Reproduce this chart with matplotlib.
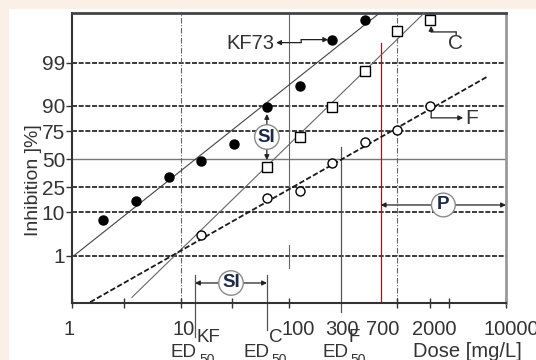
from statistics import NormalDist

import matplotlib

matplotlib.use("Agg")
import matplotlib.pyplot as plt
from matplotlib.patches import Rectangle
from matplotlib.transforms import blended_transform_factory, offset_copy

# doses follow a doubling dilution series; inhibition
kf_dose = [1.95, 3.9, 7.8, 15.6, 31.25, 62.5, 125, 250, 500]
kf_inhib = [7.0, 15.6, 33.0, 48.0, 64.0, 89.5, 96.0, 99.8, 99.96]

c_dose = [62.5, 125, 250, 500, 1000, 2000]
c_inhib = [42.4, 70.0, 89.5, 98.3, 99.9, 99.96]

f_dose = [15.6, 62.5, 125, 250, 500, 1000, 2000]
f_inhib = [3.4, 17.4, 22.0, 46.0, 66.0, 76.0, 90.0]

# probit fit lines, given by their end points
kf_fit_dose = [1.0, 680]
kf_fit_inhib = [0.9, 99.978]
c_fit_dose = [3.57, 1755]
c_fit_inhib = [0.043, 99.978]
f_fit_dose = [1.47, 6830]
f_fit_inhib = [0.028, 97.7]

ed50_names = ["KF", "C", "F"]
ed50_dose = [13.6, 62.7, 300]
p_limit = 700
p_end = 10000

y_ticks = [1, 10, 25, 50, 75, 90, 99]
x_tick_marks = [1, 3, 10, 30, 100, 1000, 2000, 3000, 10000]
x_label_vals = [1, 10, 100, 300, 700, 2000, 10000]

PEACH = "#fcefe6"
TXT = "#333333"
NAVY = "#1d2946"

plt.rcParams["font.family"] = ["Liberation Sans", "DejaVu Sans"]

nd = NormalDist()


def z(p):
    return nd.inv_cdf(p / 100.0)


fig = plt.figure(figsize=(5.36, 3.6), dpi=100)
fig.patch.set_facecolor("white")
fig.add_artist(Rectangle((0, 0), 9 / 536, 1, transform=fig.transFigure,
                         facecolor=PEACH, edgecolor="none", zorder=0))
fig.add_artist(Rectangle((0, 1 - 9 / 360), 1, 9 / 360, transform=fig.transFigure,
                         facecolor=PEACH, edgecolor="none", zorder=0))

ax = fig.add_axes([72 / 536, 57 / 360, 434 / 536, 290 / 360])
ax.set_xscale("log")
ax.set_xlim(1, 10000)
ax.set_ylim(-3.47, 3.52)

xa = blended_transform_factory(ax.transData, ax.transAxes)


def shifted(tr, dx, dy):
    return offset_copy(tr, fig=fig, x=dx, y=dy, units="dots")


# horizontal reference lines
for p in y_ticks:
    if p == 50:
        ax.axhline(z(p), color="#777777", lw=1.0, zorder=1)
    else:
        ax.axhline(z(p), color="#1a1a1a", lw=1.2, dashes=(3, 1), zorder=1)

# vertical reference lines
for v in [10, 1000]:
    ax.axvline(v, color="#666666", lw=0.8, dashes=(5, 1.5, 1, 1.5), zorder=1)
ax.plot([100, 100], [0.321, 1.0], transform=xa, color="#666666", lw=0.8, zorder=1)
ax.plot([100, 100], [0.121, 0.2], transform=xa, color="#666666", lw=0.8, zorder=1)
ax.plot([p_limit, p_limit], [0, 0.897], transform=xa, color="#9b1b1b", lw=0.9, zorder=2)

# ED50 markers
ed_top = [0.0966, 0.0966, 0.538]
ed_bot = [-0.117, -0.093, -0.031]
for d, t, b in zip(ed50_dose, ed_top, ed_bot):
    ax.plot([d, d], [b, t], transform=xa, color="#555555", lw=0.9, clip_on=False, zorder=2)

ed_dx = [2, 2, 8]
for name, d, dx in zip(ed50_names, ed50_dose, ed_dx):
    ax.text(d, -0.169, "ED", transform=shifted(xa, dx, 0), ha="right", va="center",
            fontsize=13.5, color=TXT, clip_on=False)
    ax.text(d, -0.118, name, transform=shifted(xa, dx, 0), ha="left", va="center",
            fontsize=13.5, color=TXT, clip_on=False)
    ax.text(d, -0.195, "50", transform=shifted(xa, dx + 2, 0), ha="left", va="center",
            fontsize=10, color=TXT, clip_on=False)

# fit lines
ax.plot(kf_fit_dose, [z(p) for p in kf_fit_inhib], color="#444444", lw=0.8, zorder=3)
ax.plot(c_fit_dose, [z(p) for p in c_fit_inhib], color="#666666", lw=0.8, zorder=3)
ax.plot(f_fit_dose, [z(p) for p in f_fit_inhib], color="#1a1a1a", lw=1.3,
        dashes=(3, 1.3), zorder=3)

# data points
ax.plot(kf_dose, [z(p) for p in kf_inhib], "o", ms=6.5, color="black", zorder=5)
ax.plot(c_dose, [z(p) for p in c_inhib], "s", ms=6.5, mfc="white", mec="black",
        mew=1.0, zorder=5)
ax.plot(f_dose, [z(p) for p in f_inhib], "o", ms=6.5, mfc="white", mec="black",
        mew=1.0, zorder=5)

bubble = dict(boxstyle="circle,pad=0.18", fc="white", ec="#8a8a8a", lw=1.0)
arrow2 = dict(arrowstyle="<|-|>", color="#222222", lw=0.9, mutation_scale=7,
              shrinkA=0, shrinkB=0)

# SI between KF and C at the same dose
si_x = kf_dose[5]
ax.annotate("", xy=(si_x, z(kf_inhib[5])), xytext=(si_x, z(c_inhib[0])),
            arrowprops=dict(arrow2, shrinkA=5, shrinkB=5), zorder=6)
ax.text(si_x, (z(kf_inhib[5]) + z(c_inhib[0])) / 2, "SI", ha="center", va="center",
        fontsize=13.5, fontweight="bold", color=NAVY, bbox=bubble, zorder=7)

# SI between the ED50 values
si_y = 0.069
ax.annotate("", xy=(ed50_dose[0], si_y), xytext=(ed50_dose[1], si_y),
            xycoords=xa, textcoords=xa, arrowprops=arrow2, zorder=6)
ax.text((ed50_dose[0] * ed50_dose[1]) ** 0.5, si_y, "SI", transform=xa, ha="center",
        va="center", fontsize=13.5, fontweight="bold", color=NAVY, bbox=bubble, zorder=7)

# P range
p_y = 0.338
ax.annotate("", xy=(p_limit, p_y), xytext=(p_end, p_y), xycoords=xa, textcoords=xa,
            arrowprops=arrow2, zorder=6, annotation_clip=False)
ax.text((p_limit * p_end) ** 0.5, p_y, "P", transform=xa, ha="center", va="center",
        fontsize=13.5, fontweight="bold", color=NAVY, bbox=bubble, zorder=7)


def leader(x, y, pts, head_start=False, head_end=False):
    # pts are pixel offsets from the data point, y measured downwards
    base = ax.transData.transform((x, y))
    xy = [(base[0] + dx, base[1] - dy) for dx, dy in pts]
    for i in range(len(xy) - 1):
        style = "-"
        if i == 0 and head_start:
            style = "<|-"
        if i == len(xy) - 2 and head_end:
            style = "-|>" if style == "-" else "<|-|>"
        ax.annotate("", xy=xy[i + 1], xytext=xy[i], xycoords="figure pixels",
                    textcoords="figure pixels",
                    arrowprops=dict(arrowstyle=style, color="#222222", lw=0.9,
                                    mutation_scale=7, shrinkA=0, shrinkB=0))
    return base


b = leader(kf_dose[7], z(kf_inhib[7]), [(-4, 0), (-31, 0), (-31, 3), (-56, 3)],
           head_start=True, head_end=True)
fig.text(b[0] - 58, b[1] - 3.5, "KF73", transform=None, ha="right", va="center",
         fontsize=14.5, color=TXT)

b = leader(c_dose[5], z(c_inhib[5]), [(1, 6), (1, 12), (26, 12), (26, 15)], head_start=True)
fig.text(b[0] + 25, b[1] - 24, "C", transform=None, ha="center", va="center",
         fontsize=15, color=TXT)

b = leader(f_dose[6], z(f_inhib[6]), [(1, 5), (1, 12), (33, 12)], head_end=True)
fig.text(b[0] + 35, b[1] - 13, "F", transform=None, ha="left", va="center",
         fontsize=15, color=TXT)

# axes decoration
ax.set_yticks([z(p) for p in y_ticks], [str(p) for p in y_ticks])
ax.tick_params(axis="y", direction="out", length=4, width=1, colors="#333333",
               labelsize=15, labelcolor=TXT, pad=1)
ax.set_xticks(x_tick_marks, [""] * len(x_tick_marks))
ax.xaxis.set_minor_locator(matplotlib.ticker.NullLocator())
ax.tick_params(axis="x", direction="inout", length=7, width=1, colors="#333333")

label_dx = [-3, 3, 9, 1, 2, 4, 5]
for v, dx in zip(x_label_vals, label_dx):
    ax.text(v, -0.093, str(v), transform=shifted(xa, dx, 0), ha="center", va="center",
            fontsize=14.5, color=TXT, clip_on=False)

ax.text(0.91, -0.166, "Dose [mg/L]", transform=ax.transAxes, ha="center", va="center",
        fontsize=14.5, color=TXT)
fig.text(34 / 536, 1 - 180 / 360, "Inhibition ]%]", rotation=90, ha="center",
         va="center", fontsize=14, color=TXT)

for side in ["left", "bottom"]:
    ax.spines[side].set_linewidth(1.5)
    ax.spines[side].set_color("#333333")
ax.spines["top"].set_linewidth(2)
ax.spines["top"].set_color("#444444")
ax.spines["right"].set_linewidth(2)
ax.spines["right"].set_color("#9a9a9a")

fig.savefig("out.png", dpi=100, facecolor=fig.get_facecolor())
